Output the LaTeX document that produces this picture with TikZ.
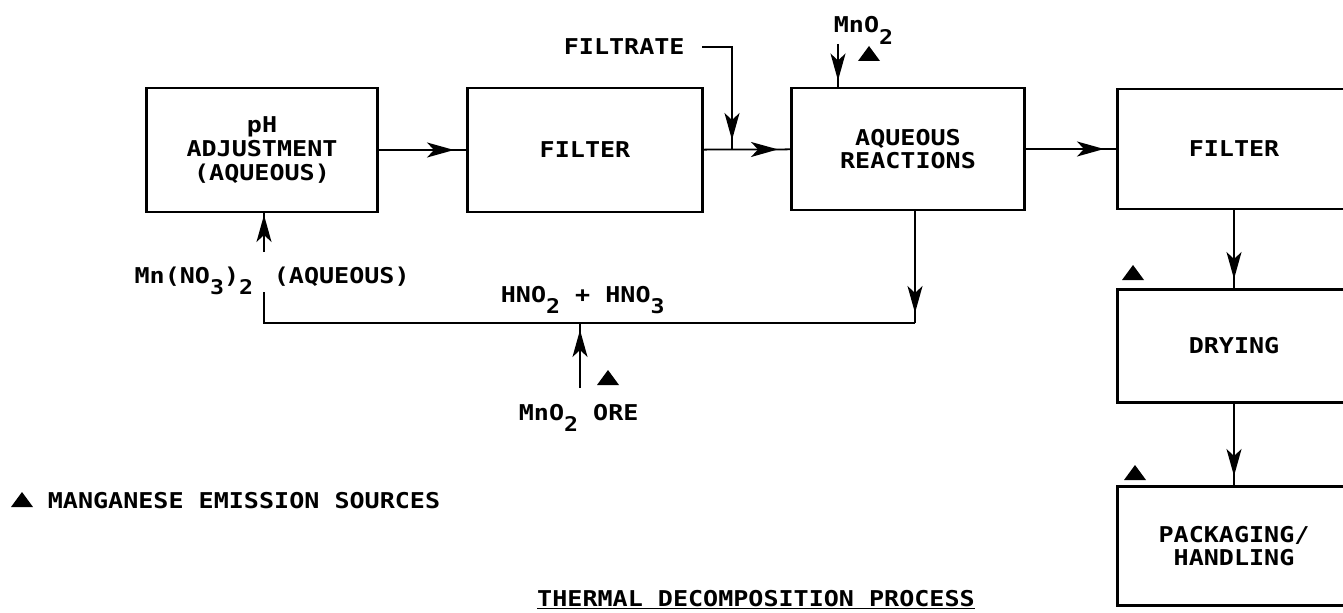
\documentclass[tikz,border=0pt]{standalone}
\usepackage{fontspec}
\setmainfont{DejaVu Sans Mono}[FakeStretch=1.15]
\usetikzlibrary{arrows.meta,positioning,decorations.markings}

\newcommand{\lowsub}[1]{\raisebox{-1ex}{\fontsize{11.5}{11.5}\selectfont #1}}

\begin{document}
\begin{tikzpicture}[x=0.2mm,y=-0.2mm,line width=1pt,
  font=\fontsize{12.4}{13.5}\selectfont\bfseries,
  procbox/.style={draw,line width=1.7pt,minimum width=46.6mm,minimum height=24.4mm,align=center,inner sep=0pt},
  lbl/.style={inner sep=0pt},
  flow/.style={postaction={decorate},decoration={markings,
    mark=at position #1 with {\arrow{Stealth[length=5.4mm,width=3mm,inset=1.4mm]}}}},
  flow/.default=-2mm]
  \clip (0,0) rectangle (1343,613);

  % process boxes
  \node[procbox,minimum width=46.2mm,minimum height=24.8mm] (adj) at (262,150) {pH\\ADJUSTMENT\\(AQUEOUS)};
  \node[procbox,minimum width=47mm,minimum height=24.8mm] (filta) at (585,150) {FILTER};
  \node[procbox] (aqr) at (908,149) {AQUEOUS\\REACTIONS};
  \node[procbox,minimum height=24mm] (filtb) at (1234,149) {FILTER};
  \node[procbox,minimum height=22.6mm] (dry) at (1234,346) {DRYING};
  \node[procbox,minimum height=23.8mm] (pack) at (1234,546) {PACKAGING/\\HANDLING};

  % main line
  \draw[flow=-2.4mm] (adj) -- (filta);
  \draw[flow=-2.4mm] (filta) -- (aqr);
  \draw[flow=-2.4mm] (aqr) -- (filtb);
  \draw[flow=-1.8mm] (filtb) -- (dry);
  \draw[flow=-1.8mm] (dry) -- (pack);

  % filtrate and MnO2 feed
  \node[lbl,anchor=base west] (filtrate) at (563,55) {FILTRATE};
  \coordinate (fjoin) at (732,150);
  \draw[flow] ([xshift=3.4mm]filtrate.east) -| (fjoin);
  \node[lbl,anchor=base west] (mnotop) at (833,33) {MnO\lowsub{2}};
  \coordinate (mtop) at (838,44);
  \draw[flow=-1.2mm] (mtop) -- (mtop |- aqr.north);

  % acid recycle
  \coordinate (ret) at (915,323);
  \coordinate (retl) at (264,323);
  \coordinate (rettop) at (264,292);
  \draw[flow] (aqr.south -| ret) -- (ret);
  \draw (ret) -- (retl) -- (rettop);
  \node[lbl,anchor=base west] (acid) at (500,302) {HNO\lowsub{2} + HNO\lowsub{3}};
  \node[lbl,anchor=base east] (mnno) at (254,283) {Mn(NO\lowsub{3})\lowsub{2}};
  \node[lbl,anchor=base west] (aqs) at (273,283) {(AQUEOUS)};
  \coordinate (mnin) at (264,252);
  \draw[flow=-0.3mm] (mnin) -- (mnin |- adj.south);

  % ore feed
  \node[lbl,anchor=base west] (ore) at (518,420) {MnO\lowsub{2} ORE};
  \coordinate (oretop) at (580,388);
  \draw[flow=-1.4mm] (oretop) -- (oretop |- retl);

  % emission sources
  \foreach \p in {(869,54),(608,378),(1133,273),(1135,473),(22,500)}
    \fill \p ++(-11,7) -- ++(22,0) -- ++(-11,-15) -- cycle;

  % legend and title
  \node[lbl,anchor=base west] (legend) at (47,508) {MANGANESE EMISSION SOURCES};
  \node[lbl,anchor=base] (title) at (756,606) {\underline{THERMAL DECOMPOSITION PROCESS}};
\end{tikzpicture}
\end{document}
